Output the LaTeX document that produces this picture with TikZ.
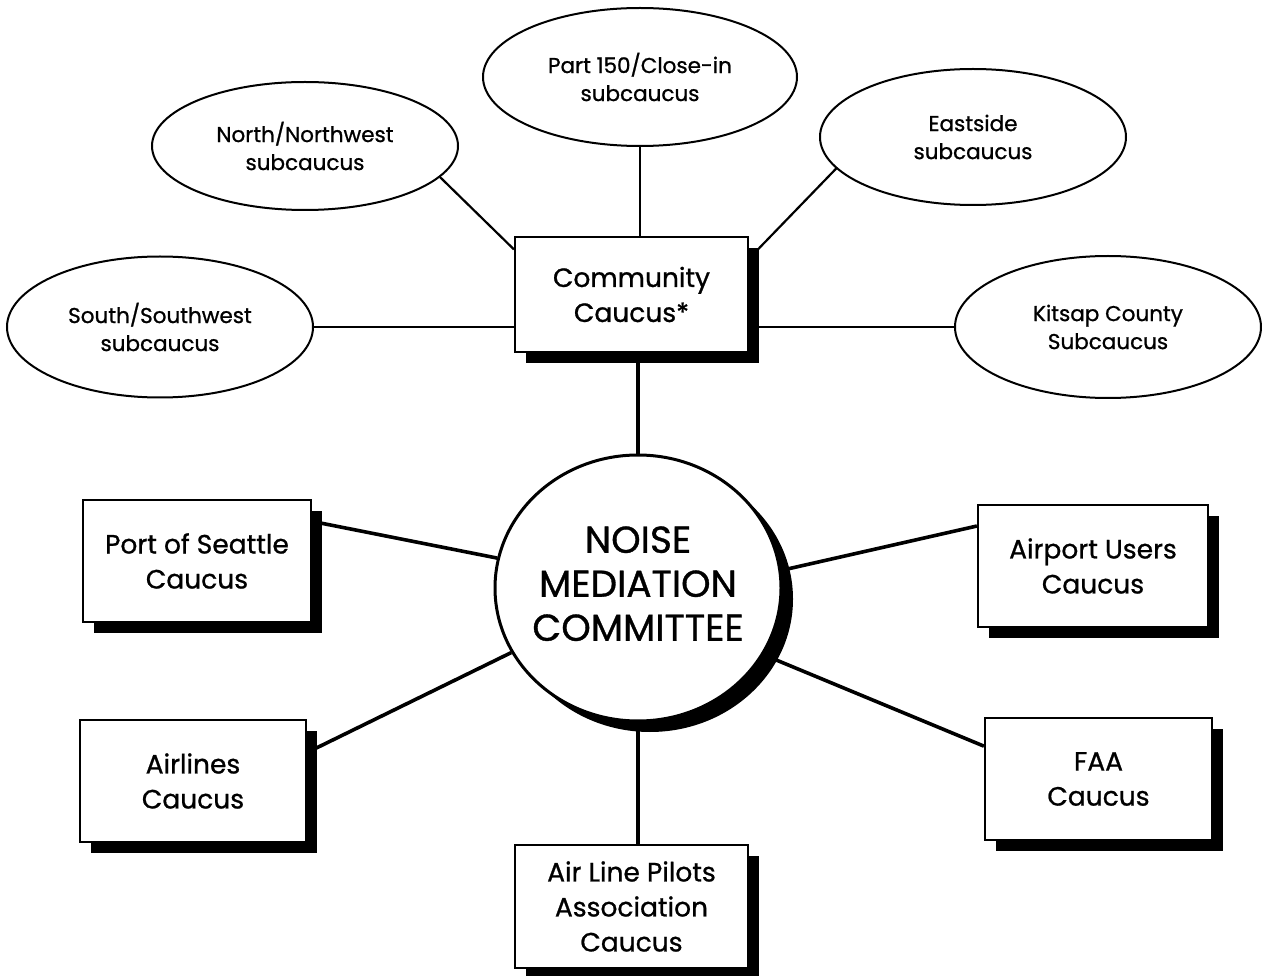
\documentclass[tikz,border=0pt]{standalone}
\usepackage{fontspec}
\setmainfont{Poppins}[FakeBold=0.9]
\usetikzlibrary{shapes.geometric,shadows,backgrounds}
\tikzset{
  box/.style={draw=black, line width=2.2pt, fill=white, inner sep=0pt, align=center,
    font=\fontsize{26.5}{35}\selectfont,
    drop shadow={shadow xshift=11pt, shadow yshift=-11pt, fill=black, opacity=1}},
  sub/.style={ellipse, draw=black, line width=2pt, fill=white, inner sep=0pt, align=center,
    font=\fontsize{21.5}{28}\selectfont},
  hub/.style={ellipse, draw=black, line width=3pt, fill=white, inner sep=-40pt, align=center,
    font=\fontsize{37.5}{44}\selectfont,
    drop shadow={shadow xshift=12pt, shadow yshift=-11pt, fill=black, opacity=1}},
  thin/.style={line width=2.2pt},
  thick/.style={line width=3.6pt}
}
\begin{document}
\begin{tikzpicture}[x=1pt,y=-1pt]
\useasboundingbox (0,0) rectangle (1262,976);
% subcaucus ellipses
\node[sub, minimum width=306pt, minimum height=128pt] (nw) at (305,146) {North/Northwest\\subcaucus};
\node[sub, minimum width=314pt, minimum height=138pt] (p150) at (640,77) {Part 150/Close-in\\subcaucus};
\node[sub, minimum width=306pt, minimum height=136pt] (es) at (973,137) {Eastside\\subcaucus};
\node[sub, minimum width=306pt, minimum height=141pt] (ssw) at (160,327) {South/Southwest\\subcaucus};
\node[sub, minimum width=306pt, minimum height=142pt] (kc) at (1108,327) {Kitsap County\\Subcaucus};
% community caucus
\node[box, minimum width=233pt, minimum height=115pt] (cc) at (631.5,294.5) {Community\\Caucus*};
% hub
\node[hub, minimum width=286pt, minimum height=266pt] (nmc) at (638,588)
  {\raisebox{6pt}{\begin{tabular}{@{}c@{}}NOISE\\MEDIATION\\COMMITTEE\end{tabular}}};
% caucus boxes
\node[box, minimum width=228pt, minimum height=122pt] (ps) at (197,561) {Port of Seattle\\Caucus};
\node[box, minimum width=226pt, minimum height=122pt] (al) at (193,781) {Airlines\\Caucus};
\node[box, minimum width=233pt, minimum height=123pt] (alpa) at (631.5,906.5) {Air Line Pilots\\Association\\Caucus};
\node[box, minimum width=230pt, minimum height=122pt] (au) at (1093,566) {Airport Users\\Caucus};
\node[box, minimum width=227pt, minimum height=122pt] (faa) at (1098.5,779) {FAA\\Caucus};
% connectors
\begin{scope}[on background layer]
\draw[thin] (nw.-13.1) -- (cc.159.1);
\draw[thin] (es.193.4) -- (cc.17.8);
\draw[thin] (p150.south) -- (p150.south |- cc.north);
\draw[thin] (ssw.east) -- (ssw.east -| cc.west);
\draw[thin] (kc.west) -- (kc.west -| cc.east);
\draw[thick] (nmc.north) -- (nmc.north |- cc.south);
\draw[thick] (nmc.south) -- (nmc.south |- alpa.north);
\draw[thick] (nmc.168.2) -- (ps.19.3);
\draw[thick] (nmc.207.4) -- (al.14.4);
\draw[thick] (nmc.7.6) -- (au.161.7);
\draw[thick] (nmc.-28.2) -- (faa.164.7);
\end{scope}
\end{tikzpicture}
\end{document}
